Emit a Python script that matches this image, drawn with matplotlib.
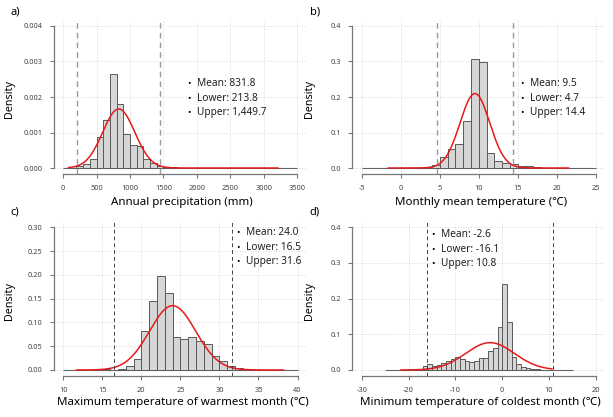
import numpy as np
import matplotlib
matplotlib.use('Agg')
import matplotlib.pyplot as plt

plt.rcParams['font.family'] = ['Noto Sans', 'DejaVu Sans']

# panel letters and axis titles
labels = ['a)', 'b)', 'c)', 'd)']
xtitles = ['Annual precipitation (mm)',
           'Monthly mean temperature (\u2103)',
           'Maximum temperature of warmest month (\u2103)',
           'Minimum temperature of coldest month (\u2103)']

# summary stats shown in each panel
means = [831.8, 9.5, 24.0, -2.6]
lowers = [213.8, 4.7, 16.5, -16.1]
uppers = [1449.7, 14.4, 31.6, 10.8]

# histogram bins (first edge, bin width) and densities
a_start, a_width = 100, 100
a_dens = [0.00001, 0.00005, 0.00011, 0.00025, 0.00087, 0.00136, 0.00266, 0.00179,
          0.00096, 0.00065, 0.00063, 0.00025, 0.00013, 0.00007, 0.00004, 0.00003]
b_start, b_width = 3, 1
b_dens = [0.002, 0.008, 0.030, 0.054, 0.068, 0.133, 0.306, 0.298, 0.043, 0.020,
          0.015, 0.012, 0.007, 0.005, 0.003]
c_start, c_width = 15, 1
c_dens = [0.002, 0.001, 0.002, 0.008, 0.024, 0.081, 0.146, 0.198, 0.161, 0.069,
          0.066, 0.069, 0.062, 0.055, 0.029, 0.018, 0.009, 0.005, 0.002]
d_start, d_width = -18, 1
d_dens = [0.002, 0.011, 0.016, 0.012, 0.014, 0.019, 0.025, 0.031, 0.036, 0.030,
          0.025, 0.022, 0.026, 0.033, 0.033, 0.053, 0.061, 0.121, 0.240, 0.134,
          0.037, 0.016, 0.009, 0.006, 0.003, 0.002, 0.001]

# zero line extent and fitted curve extent
base_ranges = [(0, 3500), (-5, 25), (10, 40), (-25, 15)]
curve_ranges = [(80, 3210), (-1.6, 21.5), (11.7, 38.2), (-21.6, 10.6)]

# axis ticks
xticks = [np.arange(0, 3501, 500), np.arange(-5, 26, 5), np.arange(10, 41, 5), np.arange(-30, 21, 10)]
yticks = [[0, 0.001, 0.002, 0.003, 0.004], [0, 0.1, 0.2, 0.3, 0.4],
          [0, 0.05, 0.10, 0.15, 0.20, 0.25, 0.30], [0, 0.1, 0.2, 0.3, 0.4]]
yfmt = ['{:.3f}', '{:.1f}', '{:.2f}', '{:.1f}']

hists = [(a_start, a_width, a_dens), (b_start, b_width, b_dens),
         (c_start, c_width, c_dens), (d_start, d_width, d_dens)]

W, H = 613, 417
fig = plt.figure(figsize=(W / 100, H / 100), dpi=100)

# axes boxes in pixels (left, top, width, height)
boxes = [(53.7, 20.3, 253, 153.4), (352.3, 20.3, 253, 153.4),
         (53.9, 221.6, 253, 154.1), (352.3, 221.6, 253, 154.1)]
text_pos = [(0.535, 0.585), (0.67, 0.585), (0.727, 0.927), (0.318, 0.914)]
dash_col = ['#9a9a9a', '#9a9a9a', '#444444', '#444444']
dash_lw = [1.0, 1.0, 0.7, 0.7]

for i in range(4):
    l, t, w, h = boxes[i]
    ax = fig.add_axes([l / W, 1 - (t + h) / H, w / W, h / H])
    xt, yt = xticks[i], yticks[i]
    xr = xt[-1] - xt[0]
    yr = yt[-1] - yt[0]
    ax.set_xlim(xt[0] - 0.04 * xr, xt[-1] + 0.04 * xr)
    ax.set_ylim(yt[0] - 0.04 * yr, yt[-1] + 0.04 * yr)
    ax.set_xticks(xt)
    ax.set_yticks(yt)
    ax.set_xticklabels([str(v) for v in xt])
    ax.set_yticklabels([yfmt[i].format(v) for v in yt])
    ax.grid(True, linestyle=':', color='#d8d8d8', linewidth=0.7)
    ax.set_axisbelow(True)
    for s in ['top', 'right']:
        ax.spines[s].set_visible(False)
    for s in ['left', 'bottom']:
        ax.spines[s].set_color('#777777')
        ax.spines[s].set_linewidth(0.9)
    ax.spines['left'].set_bounds(yt[0], yt[-1])
    ax.spines['bottom'].set_bounds(xt[0], xt[-1])
    ax.tick_params(length=3, width=0.8, color='#777777', labelsize=5.3,
                   labelcolor='#444444', pad=5)

    start, bw, dens = hists[i]
    edges = start + bw * np.arange(len(dens))
    ax.hlines(0, base_ranges[i][0], base_ranges[i][1], color='#666666', lw=0.8, zorder=2)
    ax.bar(edges, dens, width=bw, align='edge', color='#d6d6d6',
           edgecolor='#5a5a5a', linewidth=0.7, zorder=3)

    sd = (uppers[i] - means[i]) / 2.576
    xs = np.linspace(curve_ranges[i][0], curve_ranges[i][1], 400)
    ys = np.exp(-0.5 * ((xs - means[i]) / sd) ** 2) / (sd * np.sqrt(2 * np.pi))
    ax.plot(xs, ys, color='#e41a1c', lw=1.1, zorder=4)

    for v in (lowers[i], uppers[i]):
        ax.axvline(v, color=dash_col[i], lw=dash_lw[i], linestyle=(0, (4, 3)), zorder=5)

    tx, ty = text_pos[i]
    lines = ['Mean: {:,.1f}'.format(means[i]), 'Lower: {:,.1f}'.format(lowers[i]),
             'Upper: {:,.1f}'.format(uppers[i])]
    for k, s in enumerate(lines):
        yy = ty - k * 14.5 / h
        ax.text(tx, yy, '\u2022', transform=ax.transAxes, fontsize=6.5, va='center', ha='center')
        ax.text(tx + 8 / w, yy, s, transform=ax.transAxes, fontsize=7.3, va='center',
                ha='left', color='#222222')

    # panel letter, y label, x label
    col = i % 2
    row = i // 2
    fig.text((15 + 300 * col) / W, 1 - (12 + 200 * row) / H, labels[i], fontsize=8,
             va='center', ha='center')
    fig.text((10 + 300 * col) / W, 1 - (t + h / 2 + 2) / H, 'Density', rotation=90,
             fontsize=7.8, va='center', ha='center')
    fig.text((l + w / 2 + 2) / W, 1 - (202 + 200 * row) / H, xtitles[i], fontsize=8.3,
             va='center', ha='center')

fig.savefig('out.png', dpi=100)
